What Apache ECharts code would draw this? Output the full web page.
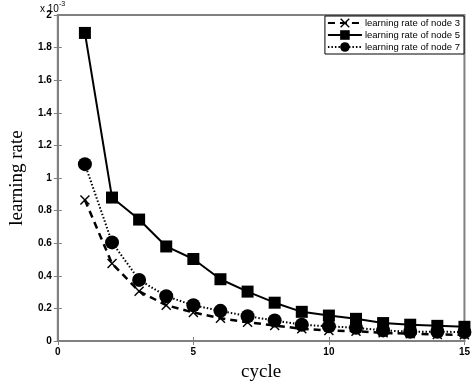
<!DOCTYPE html>
<html style="height: 100%">
<head>
    <meta charset="utf-8">
    <script src="https://cdn.jsdelivr.net/npm/echarts@6/dist/echarts.min.js"></script>
</head>
<body style="height: 100%; margin: 0; background-color: #fff;">
    <div id="container" style="width: 473px; height: 387px;"></div>
    <script type="text/javascript">
        // values in units of 1e-3
        var cycles = [1, 2, 3, 4, 5, 6, 7, 8, 9, 10, 11, 12, 13, 14, 15];
        var node3 = [0.865, 0.475, 0.305, 0.22, 0.175, 0.14, 0.115, 0.095, 0.075, 0.065, 0.06, 0.05, 0.045, 0.04, 0.038];
        var node5 = [1.89, 0.88, 0.745, 0.58, 0.503, 0.379, 0.303, 0.235, 0.179, 0.156, 0.136, 0.11, 0.10, 0.093, 0.087];
        var node7 = [1.085, 0.605, 0.375, 0.275, 0.219, 0.185, 0.152, 0.126, 0.10, 0.09, 0.081, 0.065, 0.057, 0.057, 0.055];
        var seriesNames = ['learning rate of node 3', 'learning rate of node 5', 'learning rate of node 7'];

        function pairs(arr) {
            var out = [];
            for (var i = 0; i < arr.length; i++) {
                out.push([cycles[i], arr[i]]);
            }
            return out;
        }

        var axisColor = '#808080';
        var labelFont = {
            fontSize: 10,
            color: '#000',
            fontFamily: 'Liberation Sans, Arial',
            fontWeight: 'bold'
        };
        var crossPath = 'path://M0,1 L1,0 L5,4 L9,0 L10,1 L6,5 L10,9 L9,10 L5,6 L1,10 L0,9 L4,5 Z';

        var dom = document.getElementById("container");
        var myChart = echarts.init(dom);

        var option = {
            animation: false,
            grid: {
                left: 39,
                right: 8,
                top: 15,
                bottom: 34,
                show: true,
                borderColor: axisColor,
                borderWidth: 2
            },
            legend: {
                data: seriesNames,
                orient: 'vertical',
                right: 9,
                top: 16,
                itemWidth: 34,
                itemHeight: 12,
                itemGap: 2,
                padding: [2, 4, 2, 2],
                borderColor: '#000',
                borderWidth: 1,
                backgroundColor: '#fff',
                textStyle: {
                    fontSize: 9.5,
                    color: '#000',
                    fontFamily: 'Liberation Sans, Arial',
                    padding: [0, 0, 0, -2]
                }
            },
            xAxis: [{
                type: 'value',
                min: 0,
                max: 15,
                interval: 5,
                axisLine: { onZero: false, lineStyle: { color: axisColor, width: 2 } },
                axisTick: { inside: true, length: 4, lineStyle: { color: axisColor } },
                axisLabel: Object.assign({ margin: 6 }, labelFont),
                splitLine: { show: false },
                name: 'cycle',
                nameLocation: 'middle',
                nameGap: 22,
                nameTextStyle: { fontSize: 19, fontFamily: 'Liberation Serif, Times New Roman', color: '#000' }
            }, {
                type: 'value',
                position: 'top',
                min: 0,
                max: 15,
                interval: 5,
                axisLine: { show: false },
                axisTick: { inside: true, length: 4, lineStyle: { color: axisColor } },
                axisLabel: { show: false },
                splitLine: { show: false }
            }],
            yAxis: [{
                type: 'value',
                min: 0,
                max: 2,
                interval: 0.2,
                axisLine: { onZero: false, lineStyle: { color: axisColor, width: 2 } },
                axisTick: { inside: true, length: 4, lineStyle: { color: axisColor } },
                axisLabel: Object.assign({ margin: 6, formatter: function (v) { return String(Math.round(v * 10) / 10); } }, labelFont),
                splitLine: { show: false },
                name: 'learning rate',
                nameLocation: 'middle',
                nameGap: 25,
                nameTextStyle: { fontSize: 19, fontFamily: 'Liberation Serif, Times New Roman', color: '#000' }
            }, {
                type: 'value',
                position: 'right',
                min: 0,
                max: 2,
                interval: 0.2,
                axisLine: { show: false },
                axisTick: { inside: true, length: 4, lineStyle: { color: axisColor } },
                axisLabel: { show: false },
                splitLine: { show: false }
            }],
            graphic: [{
                type: 'text',
                left: 40,
                top: 1,
                style: {
                    text: '{b|x 10}{s|-3}',
                    rich: {
                        b: { fontSize: 10, fontFamily: 'Liberation Sans, Arial', fill: '#000', verticalAlign: 'bottom' },
                        s: { fontSize: 7, fontFamily: 'Liberation Sans, Arial', fill: '#000', verticalAlign: 'top', padding: [0, 0, 6, 0] }
                    }
                }
            }],
            series: [
                {
                    name: seriesNames[0],
                    type: 'line',
                    data: pairs(node3),
                    symbol: crossPath,
                    symbolSize: 10,
                    itemStyle: { color: '#000' },
                    lineStyle: { color: '#000', width: 2.5, type: [7, 5] }
                },
                {
                    name: seriesNames[1],
                    type: 'line',
                    data: pairs(node5),
                    symbol: 'rect',
                    symbolSize: 12,
                    itemStyle: { color: '#000' },
                    lineStyle: { color: '#000', width: 2, type: 'solid' }
                },
                {
                    name: seriesNames[2],
                    type: 'line',
                    data: pairs(node7),
                    symbol: 'circle',
                    symbolSize: 14,
                    itemStyle: { color: '#000' },
                    lineStyle: { color: '#000', width: 2, type: [1.5, 2] }
                }
            ]
        };

        myChart.setOption(option, true);
    </script>
</body>
</html>
